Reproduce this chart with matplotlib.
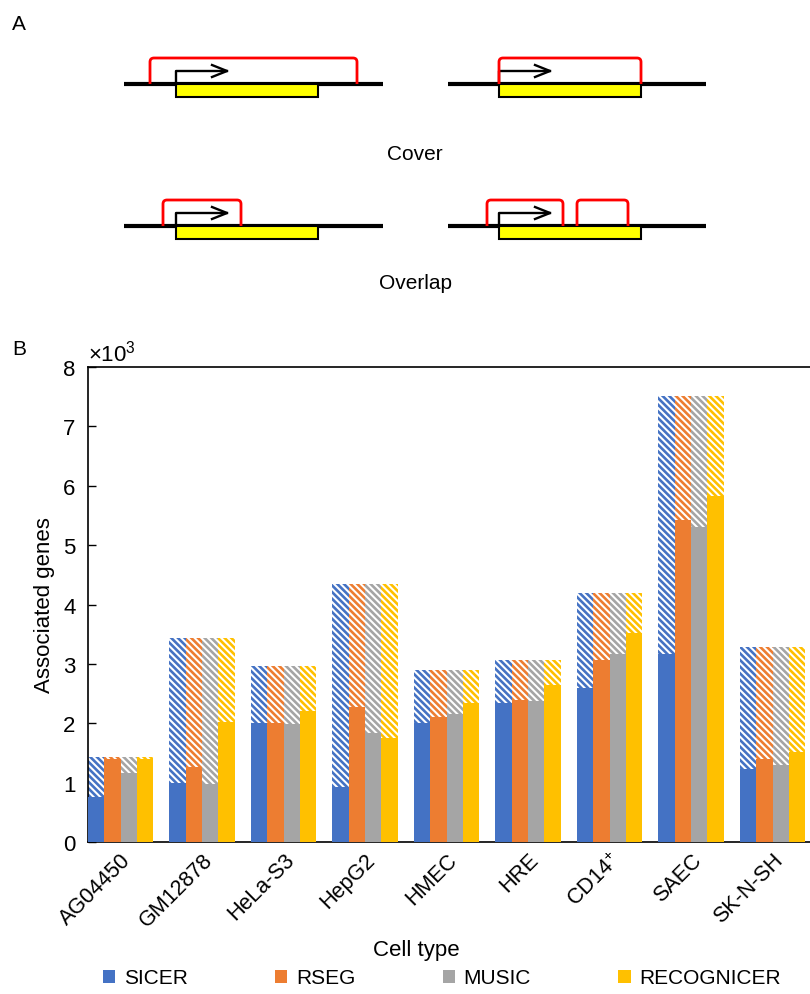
import numpy as np
import matplotlib
matplotlib.use("Agg")
from matplotlib import pyplot as plt
from matplotlib.path import Path
from matplotlib.patches import PathPatch, Rectangle, Patch

plt.rcParams['font.family'] = ['Liberation Sans', 'DejaVu Sans']
plt.rcParams['mathtext.fontset'] = 'custom'
plt.rcParams['mathtext.rm'] = 'Liberation Sans'
plt.rcParams['mathtext.it'] = 'Liberation Sans'
plt.rcParams['hatch.linewidth'] = 1.9

# panel B data (number of associated genes)
cell_types = ['AG04450', 'GM12878', 'HeLa-S3', 'HepG2', 'HMEC', 'HRE',
              'CD14$^{+}$', 'SAEC', 'SK-N-SH']
totals = [1430, 3430, 2970, 4340, 2890, 3070, 4190, 7520, 3280]
sicer = [750, 990, 2010, 920, 2010, 2340, 2590, 3160, 1230]
rseg = [1400, 1270, 2010, 2280, 2100, 2390, 3060, 5420, 1400]
music = [1170, 980, 1980, 1840, 2150, 2370, 3170, 5310, 1290]
recognicer = [1400, 2020, 2200, 1750, 2340, 2640, 3520, 5830, 1520]
methods = ['SICER', 'RSEG', 'MUSIC', 'RECOGNICER']
colors = ['#4472C4', '#ED7D31', '#A5A5A5', '#FFC000']

# panel A schematic, in pixel units of the top strip
gene_left = [176, 499, 176, 499]
gene_right = [318, 641, 318, 641]
line_left = [124, 448, 124, 448]
line_right = [383, 706, 383, 706]
row_y = [85, 85, 227, 227]
peaks = [[(150, 357)], [(499, 641)], [(163, 241)], [(487, 563), (577, 628)]]
captions = ['Cover', 'Overlap']
caption_y = [155, 284]

fig = plt.figure(figsize=(8.1, 9.95), dpi=100)

# ---- panel A ----
axa = fig.add_axes([0, 1 - 300 / 995, 1, 300 / 995])
axa.set_xlim(0, 810)
axa.set_ylim(300, 0)
axa.axis('off')


def bracket(x0, x1, yb, yt, r=4):
    verts = [(x0, yb), (x0, yt + r), (x0, yt), (x0 + r, yt),
             (x1 - r, yt), (x1, yt), (x1, yt + r), (x1, yb)]
    codes = [Path.MOVETO, Path.LINETO, Path.CURVE3, Path.CURVE3,
             Path.LINETO, Path.CURVE3, Path.CURVE3, Path.LINETO]
    return Path(verts, codes)


for gl, gr, ll, lr, y, pk in zip(gene_left, gene_right, line_left, line_right, row_y, peaks):
    axa.plot([ll, lr], [y, y], color='black', lw=3.0, solid_capstyle='butt', zorder=2)
    axa.add_patch(Rectangle((gl, y), gr - gl, 13, facecolor='#FFFF00',
                            edgecolor='black', lw=1.5, zorder=3))
    ytop = y - 13
    xend = gl + 51
    axa.plot([gl, gl, xend], [y, ytop, ytop], color='black', lw=1.7, zorder=4)
    axa.plot([xend - 15, xend, xend - 15], [ytop - 6, ytop, ytop + 6],
             color='black', lw=1.7, zorder=4)
    for x0, x1 in pk:
        axa.add_patch(PathPatch(bracket(x0, x1, y, y - 26), fill=False,
                                edgecolor='#FF0000', lw=2.0, zorder=5))

for cap, cy in zip(captions, caption_y):
    axa.text(415, cy, cap, ha='center', va='center', fontsize=15)

fig.text(12 / 810, 1 - 24 / 995, 'A', fontsize=15, va='center', ha='left')
fig.text(12 / 810, 1 - 350 / 995, 'B', fontsize=15, va='center', ha='left')

# ---- panel B ----
ax = fig.add_axes([88 / 810, 152 / 995, 1 - 88 / 810, 475 / 995])
x = np.arange(len(cell_types))
w = 0.8 / 4
series = [sicer, rseg, music, recognicer]
tot = np.array(totals) / 1000
for i, (vals, c) in enumerate(zip(series, colors)):
    v = np.array(vals) / 1000
    pos = x - 0.4 + w * (i + 0.5)
    ax.bar(pos, tot - v, w, bottom=v, facecolor='white', edgecolor=c,
           hatch='\\' * 5, linewidth=0, zorder=2)
    ax.bar(pos, v, w, color=c, linewidth=0, zorder=3)

ax.set_xlim(-0.4, 8.46)
ax.set_ylim(0, 8)
ax.set_yticks(range(0, 9))
ax.tick_params(axis='y', direction='in', length=6, width=1, pad=9, labelsize=16)
ax.tick_params(axis='x', length=0, pad=5, labelsize=15.5)
ax.set_xticks(x)
ax.set_xticklabels(cell_types, rotation=45, ha='right', rotation_mode='anchor')
ax.spines['right'].set_visible(False)
for s in ['left', 'top', 'bottom']:
    ax.spines[s].set_linewidth(1.2)
ax.set_ylabel('Associated genes', fontsize=16, labelpad=6)
ax.set_xlabel('Cell type', fontsize=16)
ax.xaxis.set_label_coords((416 - 88) / (810 - 88), -0.205)
ax.text(0.0, 1.003, r'$\times$10$^3$', transform=ax.transAxes, fontsize=16,
        ha='left', va='bottom')

handles = [Patch(facecolor=c, edgecolor='none') for c in colors]
fig.legend(handles, methods, loc='center left', bbox_to_anchor=(84 / 810, 1 - 979 / 995),
           ncol=4, frameon=False, fontsize=15, handlelength=0.6, handleheight=0.6,
           handletextpad=0.4, columnspacing=4.2)

fig.savefig('out.png', dpi=100)
